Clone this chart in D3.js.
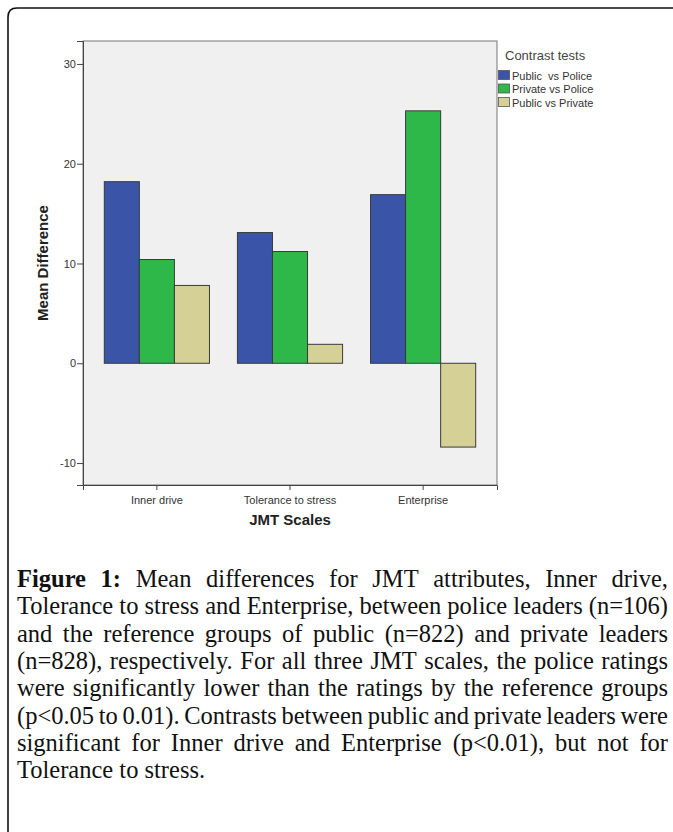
<!DOCTYPE html>
<html>
<head>
<meta charset="utf-8">
<script src="https://cdn.jsdelivr.net/npm/d3@7"></script>
<style>
  html, body { margin: 0; padding: 0; background: #ffffff; }
  svg { display: block; }
</style>
</head>
<body>
<svg id="chart" width="673" height="832"></svg>
<script>
// ---- data ----
const categories = ["Inner drive", "Tolerance to stress", "Enterprise"];
const seriesNames = ["Public  vs Police", "Private vs Police", "Public vs Private"];
const publicVsPolice = [18.2, 13.1, 16.9];
const privateVsPolice = [10.4, 11.2, 25.3];
const publicVsPrivate = [7.8, 1.9, -8.4];
const yTicks = [-10, 0, 10, 20, 30];
const seriesColors = ["#3a55a8", "#2fb84a", "#d5d096"];
const captionLines = [
  "Figure 1: Mean differences for JMT attributes, Inner drive,",
  "Tolerance to stress and Enterprise, between police leaders (n=106)",
  "and the reference groups of public (n=822) and private leaders",
  "(n=828), respectively. For all three JMT scales, the police ratings",
  "were significantly lower than the ratings by the reference groups",
  "(p<0.05 to 0.01). Contrasts between public and private leaders were",
  "significant for Inner drive and Enterprise (p<0.01), but not for",
  "Tolerance to stress."
];

const seriesValues = [publicVsPolice, privateVsPolice, publicVsPrivate];
const table = [];
categories.forEach((c, ci) => {
  seriesNames.forEach((s, si) => table.push({cat: c, series: s, si: si, value: seriesValues[si][ci]}));
});

const svg = d3.select("#chart");
const sans = "'Liberation Sans', Arial, sans-serif";
const serif = "'Liberation Serif', 'Times New Roman', serif";

// outer frame
svg.append("path")
  .attr("d", "M673,8 L17,8 Q8,8 8,17 L8,832")
  .attr("fill", "none").attr("stroke", "#111").attr("stroke-width", 1.6);

// plot area
const plot = {left: 83, right: 497, top: 41, bottom: 485};
const x = d3.scaleBand().domain(categories).range([plot.left, plot.right])
  .paddingInner(0.21).paddingOuter(0.16);
const xs = d3.scaleBand().domain(seriesNames).range([0, x.bandwidth()]).padding(0);
const y = d3.scaleLinear().domain([-12.2, 32.3]).range([plot.bottom, plot.top]);
const color = d3.scaleOrdinal().domain(seriesNames).range(seriesColors);

svg.append("rect")
  .attr("x", plot.left).attr("y", plot.top)
  .attr("width", plot.right - plot.left).attr("height", plot.bottom - plot.top)
  .attr("fill", "#f0f0f0").attr("stroke", "#777").attr("stroke-width", 1);

// bars
svg.append("g").selectAll("rect").data(table).join("rect")
  .attr("x", d => x(d.cat) + xs(d.series))
  .attr("width", xs.bandwidth())
  .attr("y", d => y(Math.max(0, d.value)))
  .attr("height", d => Math.abs(y(d.value) - y(0)))
  .attr("fill", d => color(d.series))
  .attr("stroke", "#3a3a3a").attr("stroke-width", 1);

// y axis
const yAxis = svg.append("g").attr("transform", `translate(${plot.left},0)`)
  .call(d3.axisLeft(y).tickValues(yTicks).tickSize(6).tickPadding(1).tickFormat(d => String(d)));
yAxis.select(".domain").attr("stroke", "#444");
yAxis.selectAll(".tick line").attr("stroke", "#444");
yAxis.selectAll(".tick text").attr("font-family", sans).attr("font-size", 11).attr("fill", "#333");

// x axis
const xAxis = svg.append("g").attr("transform", `translate(0,${plot.bottom})`)
  .call(d3.axisBottom(x).tickSize(5).tickPadding(6));
xAxis.select(".domain").attr("stroke", "#444");
xAxis.selectAll(".tick line").attr("stroke", "#444");
xAxis.selectAll(".tick text").attr("font-family", sans).attr("font-size", 11).attr("fill", "#333");

// axis titles
svg.append("text")
  .attr("transform", `translate(48,${(plot.top + plot.bottom) / 2}) rotate(-90)`)
  .attr("text-anchor", "middle").attr("font-family", sans).attr("font-weight", "bold")
  .attr("font-size", 15).attr("fill", "#222").text("Mean Difference");
svg.append("text")
  .attr("x", (plot.left + plot.right) / 2).attr("y", 525)
  .attr("text-anchor", "middle").attr("font-family", sans).attr("font-weight", "bold")
  .attr("font-size", 15).attr("fill", "#222").text("JMT Scales");

// legend
const lg = svg.append("g");
lg.append("text").attr("x", 505).attr("y", 60).attr("font-family", sans)
  .attr("font-size", 13).attr("fill", "#444").text("Contrast tests");
seriesNames.forEach((s, i) => {
  lg.append("rect").attr("x", 498.5).attr("y", 70.5 + i * 13.5).attr("width", 11).attr("height", 9)
    .attr("fill", color(s)).attr("stroke", "#555").attr("stroke-width", 0.8);
  lg.append("text").attr("x", 512).attr("y", 79.5 + i * 13.5).attr("font-family", sans)
    .attr("font-size", 11).attr("fill", "#333").attr("xml:space", "preserve")
    .style("white-space", "pre").text(s);
});

// caption (justified)
const capLeft = 17, capRight = 668, capWidth = capRight - capLeft;
const meas = svg.append("text").attr("font-family", serif).attr("visibility", "hidden");
function wordWidth(w, fs, bold) {
  meas.attr("font-size", fs).attr("font-weight", bold ? "bold" : "normal").text(w);
  return meas.node().getComputedTextLength();
}
// choose font size so the tightest line fits
let fs = 20;
{
  const words = captionLines[1].split(" ");
  const sp = wordWidth("a a", fs) - wordWidth("aa", fs);
  const w = d3.sum(words, wd => wordWidth(wd, fs)) + sp * (words.length - 1);
  fs = fs * capWidth / w;
}
const lineH = 27.3, firstBase = 587;
captionLines.forEach((line, li) => {
  const words = line.split(" ");
  const bolds = words.map((w, wi) => li === 0 && wi < 2);
  const widths = words.map((w, wi) => wordWidth(w, fs, bolds[wi]));
  const natSpace = wordWidth("a a", fs) - wordWidth("aa", fs);
  const last = li === captionLines.length - 1;
  const gap = last ? natSpace : (capWidth - d3.sum(widths)) / (words.length - 1);
  const t = svg.append("text").attr("y", firstBase + li * lineH)
    .attr("font-family", serif).attr("font-size", fs).attr("fill", "#111");
  let cx = capLeft;
  words.forEach((w, wi) => {
    t.append("tspan").attr("x", cx).attr("font-weight", bolds[wi] ? "bold" : "normal").text(w);
    cx += widths[wi] + gap;
  });
});
meas.remove();
</script>
</body>
</html>
